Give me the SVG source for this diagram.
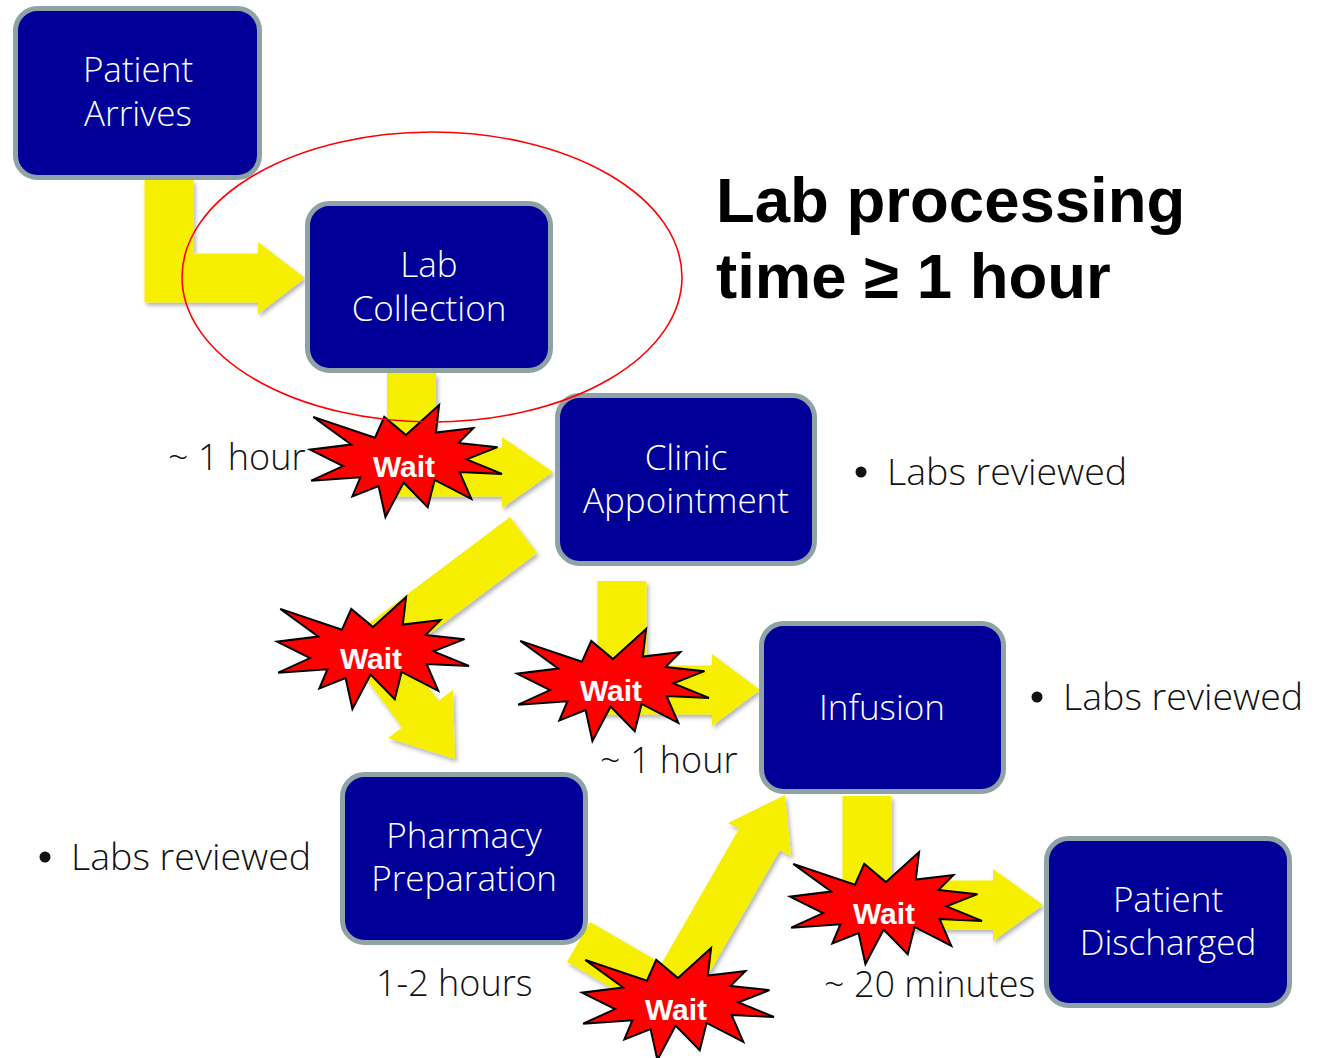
<svg xmlns="http://www.w3.org/2000/svg" xmlns:xlink="http://www.w3.org/1999/xlink" width="1319" height="1058" viewBox="0 0 1319 1058">
<style>
.box{fill:#000099;stroke:#8FA3A7;stroke-width:5}
.bt{font-family:"Open Sans","Noto Sans","Liberation Sans",sans-serif;font-weight:300;font-size:35px;fill:#ffffff;text-anchor:middle}
.shaft{fill:none;stroke:#F6EF00;stroke-linejoin:miter;stroke-linecap:butt}
.head{fill:#F6EF00}
.star{fill:#FF0000;stroke:#000000;stroke-width:2;stroke-linejoin:miter}
.wt{font-family:"Liberation Sans",Arial,sans-serif;font-weight:bold;font-size:30px;fill:#ffffff;text-anchor:middle}
.lbl{font-family:"Open Sans","Noto Sans","Liberation Sans",sans-serif;font-weight:300;font-size:36px;fill:#111111}
.lr{font-family:"Open Sans","Noto Sans","Liberation Sans",sans-serif;font-weight:300;font-size:37.5px;fill:#111111}
.dot{fill:#111111}
.big{font-family:"Liberation Sans",Arial,sans-serif;font-weight:bold;font-size:63.5px;fill:#000000}
</style>
<defs>
<filter id="sh" x="-20%" y="-20%" width="140%" height="140%">
<feDropShadow dx="2" dy="3" stdDeviation="2" flood-color="#000" flood-opacity="0.3"/>
</filter>
<path id="star" class="star" d="M96,30.07 L129.08,0 L125.82,27.61 L163.38,23.11 L148.46,37.93 L187.53,42.19 L156.51,54.31 L192,68.91 L149.66,67.1 L161.29,93.83 L124.62,74.96 L117.75,102.34 L93.62,77.44 L75.42,112 L68.58,81.03 L42.33,91.35 L50.37,72.27 L1.2,75.64 L33.08,61.05 L0,44.67 L41.13,39.5 L3.29,11.9 L65,32.77 L74.24,11.9 Z"/>
</defs>
<rect width="1319" height="1058" fill="#ffffff"/>

<g id="connectors" filter="url(#sh)">
<g id="arrow-arrives-lab">
<path class="shaft" stroke-width="49" d="M169,180 V278 H259"/>
<polygon class="head" points="258,242 305,278 258,314"/>
</g>
<g id="arrow-lab-clinic">
<path class="shaft" stroke-width="49" d="M411.5,373 V472 H503"/>
<polygon class="head" points="502,437 553,472 502,508"/>
</g>
<g id="arrow-clinic-pharmacy">
<path class="shaft" stroke-width="45" d="M523.5,535 L372,649 L421,715"/>
<polygon class="head" points="453,690 455,759 388,738"/>
</g>
<g id="arrow-clinic-infusion">
<path class="shaft" stroke-width="49" d="M622,581 V690 H713"/>
<polygon class="head" points="712,654 760,690 712,726"/>
</g>
<g id="arrow-pharmacy-infusion">
<path class="shaft" stroke-width="46" d="M578.5,942 L670,995 L760,838.5"/>
<polygon class="head" points="728,823 785,795 791,856"/>
</g>
<g id="arrow-infusion-discharged">
<path class="shaft" stroke-width="49" d="M867,796 V905 H994"/>
<polygon class="head" points="993,869 1043,905 993,941"/>
</g>
</g>

<g id="node-patient-arrives">
<rect class="box" x="15.5" y="8.5" width="244" height="169" rx="22"/>
<text class="bt"><tspan x="138" y="82">Patient</tspan><tspan x="138" y="126">Arrives</tspan></text>
</g>
<g id="node-lab-collection">
<rect class="box" x="307.5" y="203.5" width="243" height="167" rx="22"/>
<text class="bt"><tspan x="429" y="277">Lab</tspan><tspan x="429" y="321">Collection</tspan></text>
</g>
<g id="node-clinic-appointment">
<rect class="box" x="557.5" y="395.5" width="257" height="168" rx="22"/>
<text class="bt"><tspan x="686" y="470">Clinic</tspan><tspan x="686" y="513">Appointment</tspan></text>
</g>
<g id="node-infusion">
<rect class="box" x="761.5" y="623.5" width="242" height="168" rx="22"/>
<text class="bt" x="882" y="720">Infusion</text>
</g>
<g id="node-pharmacy-preparation">
<rect class="box" x="342.5" y="774.5" width="243" height="168" rx="22"/>
<text class="bt"><tspan x="464" y="848">Pharmacy</tspan><tspan x="464" y="891">Preparation</tspan></text>
</g>
<g id="node-patient-discharged">
<rect class="box" x="1046.5" y="838.5" width="243" height="167" rx="22"/>
<text class="bt"><tspan x="1168" y="912">Patient</tspan><tspan x="1168" y="955">Discharged</tspan></text>
</g>

<g id="wait-1" transform="translate(310,405)">
<use xlink:href="#star"/>
<text class="wt" x="94" y="72">Wait</text>
</g>
<g id="wait-2" transform="translate(277,597)">
<use xlink:href="#star"/>
<text class="wt" x="94" y="72">Wait</text>
</g>
<g id="wait-3" transform="translate(517,629)">
<use xlink:href="#star"/>
<text class="wt" x="94" y="72">Wait</text>
</g>
<g id="wait-4" transform="translate(582,948)">
<use xlink:href="#star"/>
<text class="wt" x="94" y="72">Wait</text>
</g>
<g id="wait-5" transform="translate(790,852)">
<use xlink:href="#star"/>
<text class="wt" x="94" y="72">Wait</text>
</g>

<ellipse id="highlight" cx="432" cy="277" rx="250" ry="145" fill="none" stroke="#FF0000" stroke-width="1.6"/>

<g id="labels">
<text class="big" x="716" y="222">Lab processing</text>
<text class="big" x="716" y="298">time ≥ 1 hour</text>
<text class="lbl" x="168" y="470">~ 1 hour</text>
<circle class="dot" cx="861" cy="472" r="5.5"/>
<text class="lr" x="887" y="485">Labs reviewed</text>
<circle class="dot" cx="1037" cy="697" r="5.5"/>
<text class="lr" x="1063" y="710">Labs reviewed</text>
<circle class="dot" cx="45" cy="857" r="5.5"/>
<text class="lr" x="71" y="870">Labs reviewed</text>
<text class="lbl" x="600" y="773">~ 1 hour</text>
<text class="lbl" x="376" y="996">1-2 hours</text>
<text class="lbl" x="824" y="997">~ 20 minutes</text>
</g>
</svg>
